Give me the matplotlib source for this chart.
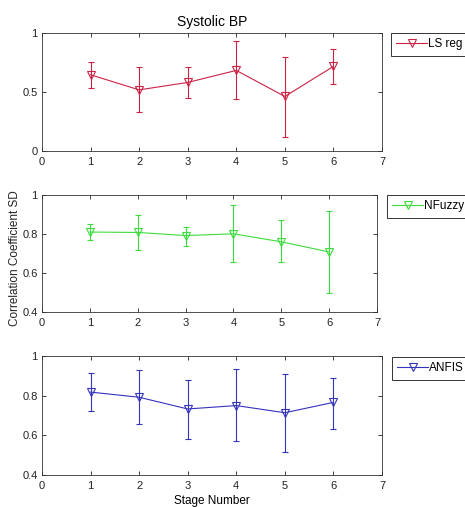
import matplotlib
matplotlib.use("Agg")
import matplotlib.pyplot as plt
from matplotlib.lines import Line2D

plt.rcParams['font.family'] = ['Liberation Sans', 'DejaVu Sans']

stages = [1, 2, 3, 4, 5, 6]

ls_mean = [0.646, 0.518, 0.581, 0.683, 0.462, 0.717]
ls_upper = [0.754, 0.708, 0.708, 0.932, 0.793, 0.864]
ls_lower = [0.533, 0.331, 0.448, 0.439, 0.122, 0.567]

nf_mean = [0.810, 0.808, 0.792, 0.801, 0.760, 0.708]
nf_upper = [0.849, 0.900, 0.837, 0.949, 0.870, 0.916]
nf_lower = [0.768, 0.720, 0.738, 0.654, 0.654, 0.499]

an_mean = [0.818, 0.792, 0.733, 0.750, 0.714, 0.766]
an_upper = [0.914, 0.928, 0.881, 0.933, 0.908, 0.889]
an_lower = [0.723, 0.655, 0.582, 0.570, 0.514, 0.634]

W, H = 465, 507
fig = plt.figure(figsize=(W / 100, H / 100), dpi=100)

specs = [
    ((42, 33, 382, 151), (ls_mean, ls_upper, ls_lower), '#cc2244', 'LS reg',
     (0, 1), [0, 0.5, 1], ['0', '0.5', '1'], (391, 33)),
    ((42, 195, 377, 312), (nf_mean, nf_upper, nf_lower), '#3ddc3d', 'NFuzzy',
     (0.4, 1), [0.4, 0.6, 0.8, 1], ['0.4', '0.6', '0.8', '1'], (387, 195)),
    ((42, 356, 382, 475), (an_mean, an_upper, an_lower), '#3333bb', 'ANFIS',
     (0.4, 1), [0.4, 0.6, 0.8, 1], ['0.4', '0.6', '0.8', '1'], (392, 357)),
]

axes = []
for (l, t, r, b), (m, up, lo), col, lab, ylim, yt, ytl, (lx, ly) in specs:
    ax = fig.add_axes([l / W, 1 - b / H, (r - l) / W, (b - t) / H])
    yerr = [[mm - ll for mm, ll in zip(m, lo)], [uu - mm for mm, uu in zip(m, up)]]
    ax.errorbar(stages, m, yerr=yerr, color=col, ecolor=col, lw=0.8, elinewidth=0.8,
                capsize=2.5, capthick=0.8, marker='v', markersize=5.5,
                markerfacecolor='none', markeredgecolor=col, markeredgewidth=0.8)
    ax.set_xlim(0, 7)
    ax.set_ylim(*ylim)
    ax.set_xticks(range(8))
    ax.set_yticks(yt)
    ax.set_yticklabels(ytl)
    ax.tick_params(direction='in', top=True, right=True, labelsize=8, length=3,
                   width=0.6, colors='#222222')
    ax.tick_params(axis='x', pad=4)
    ax.tick_params(axis='y', pad=3)
    for s in ax.spines.values():
        s.set_linewidth(0.6)
        s.set_color('#333333')
    handle = Line2D([], [], color=col, lw=0.8, marker='v', markersize=5.5,
                    markerfacecolor='none', markeredgecolor=col, markeredgewidth=0.8)
    leg = ax.legend([handle], [lab], loc='upper left', bbox_to_anchor=(lx / W, 1 - ly / H),
                    bbox_transform=fig.transFigure, fontsize=8.5, frameon=True,
                    fancybox=False, edgecolor='black', borderaxespad=0,
                    handlelength=2.6, handletextpad=0.1, borderpad=0.45)
    leg.get_frame().set_linewidth(0.7)
    axes.append(ax)

axes[0].set_title('Systolic BP', fontsize=10, pad=5)
axes[2].set_xlabel('Stage Number', fontsize=8.5, labelpad=3)
fig.text(15 / W, 1 - 258 / H, 'Correlation Coefficient SD', rotation=90,
         ha='center', va='center', fontsize=8.5, color='#222222')

fig.savefig('out.png', dpi=100)
